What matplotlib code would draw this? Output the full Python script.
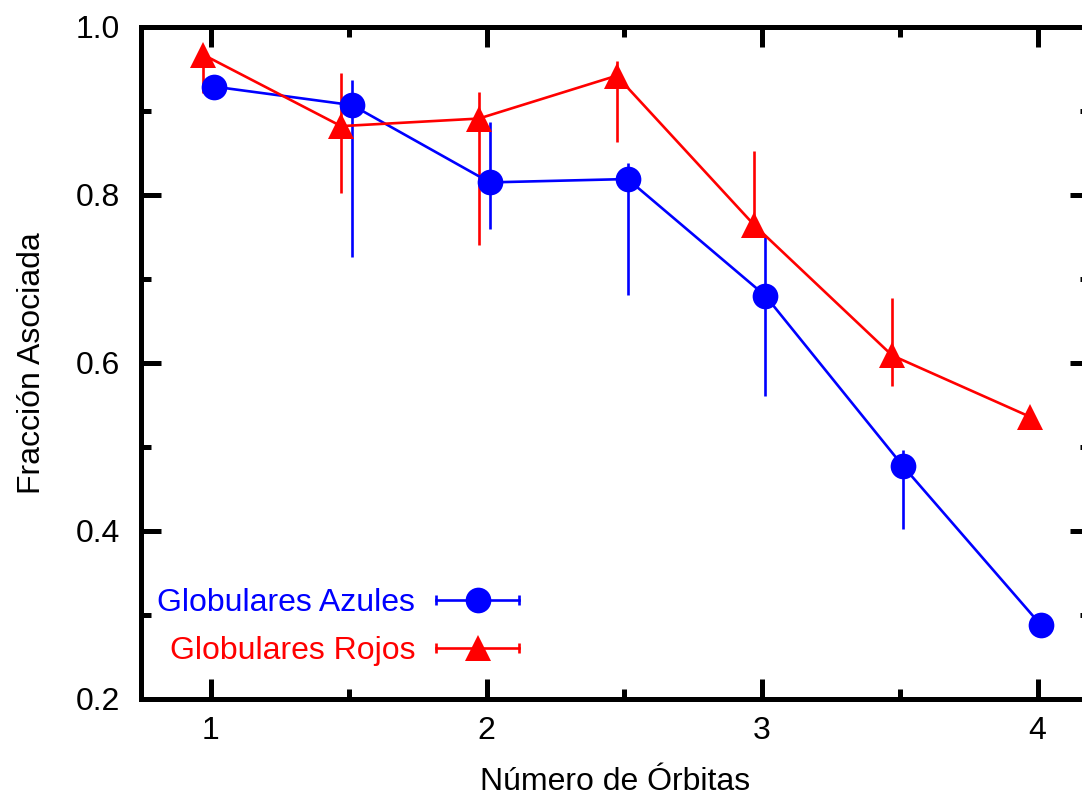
import numpy as np
import matplotlib
matplotlib.use("Agg")
import matplotlib.pyplot as plt
from matplotlib.lines import Line2D
from matplotlib.legend_handler import HandlerLine2D, HandlerTuple

plt.rcParams['font.family'] = ['Liberation Sans', 'DejaVu Sans']

# Globulares Azules
x_azules = [1.012, 1.512, 2.012, 2.512, 3.012, 3.512, 4.012]
y_azules = [0.929, 0.907, 0.815, 0.819, 0.680, 0.477, 0.288]
sup_azules = [0.929, 0.937, 0.887, 0.838, 0.750, 0.496, 0.288]
inf_azules = [0.929, 0.726, 0.760, 0.681, 0.561, 0.402, 0.288]

# Globulares Rojos
x_rojos = [0.972, 1.472, 1.972, 2.472, 2.972, 3.472, 3.972]
y_rojos = [0.967, 0.882, 0.891, 0.942, 0.764, 0.609, 0.536]
sup_rojos = [0.975, 0.945, 0.923, 0.960, 0.852, 0.677, 0.536]
inf_rojos = [0.921, 0.802, 0.740, 0.863, 0.760, 0.573, 0.536]

fs = 23
lw = 1.9

fig = plt.figure(figsize=(10.82, 7.96), dpi=100)
ax = fig.add_axes([141 / 1082, 97 / 796, 949 / 1082, 672 / 796])

def serie(x, y, sup, inf, color, marker, ms):
    y = np.array(y)
    yerr = [y - np.array(inf), np.array(sup) - y]
    ax.errorbar(x, y, yerr=yerr, color=color, lw=lw, elinewidth=lw,
                capsize=3.5, capthick=lw, marker=marker, ms=ms,
                markeredgewidth=0, zorder=3)

serie(x_azules, y_azules, sup_azules, inf_azules, "#0000ff", "o", 18.5)
serie(x_rojos, y_rojos, sup_rojos, inf_rojos, "#ff0000", "^", 19)

ax.set_xlim(0.746, 4.19)
ax.set_ylim(0.2, 1.0)
ax.set_xticks([1, 2, 3, 4])
ax.set_xticks([1.5, 2.5, 3.5], minor=True)
ax.set_yticks([0.2, 0.4, 0.6, 0.8, 1.0])
ax.set_yticks([0.3, 0.5, 0.7, 0.9], minor=True)
ax.set_yticklabels(["0.2", "0.4", "0.6", "0.8", "1.0"])

for s in ax.spines.values():
    s.set_linewidth(3.6)
ax.tick_params(which="both", direction="in", top=True, right=True,
               width=3.6, labelsize=fs)
ax.tick_params(which="major", length=14.4)
ax.tick_params(which="minor", length=7.2)
ax.tick_params(axis="x", which="major", pad=12)
ax.tick_params(axis="y", which="major", pad=15)

ax.set_xlabel("Número de Órbitas", fontsize=fs, labelpad=15)
ax.set_ylabel("Fracción Asociada", fontsize=fs, labelpad=21)

# clave estilo gnuplot: texto a la izquierda, barra horizontal con topes
handles = []
hmap = {}
for color, marker, ms in [("#0000ff", "o", 18.5), ("#ff0000", "^", 19)]:
    topes = Line2D([], [], color=color, lw=lw, marker="|", ms=7, mew=lw)
    punto = Line2D([], [], color=color, lw=0, marker=marker, ms=ms, mew=0)
    hmap[topes] = HandlerLine2D(numpoints=2, marker_pad=0)
    hmap[punto] = HandlerLine2D(numpoints=1)
    handles.append((topes, punto))
hmap[tuple] = HandlerTuple(ndivide=1)

leg = ax.legend(handles, ["Globulares Azules", "Globulares Rojos"],
                handler_map=hmap, loc="lower left",
                bbox_to_anchor=(0.017, 0.049), markerfirst=False,
                frameon=False, fontsize=fs, handlelength=2.6,
                handletextpad=0.66, labelspacing=0.56, borderpad=0,
                borderaxespad=0, labelcolor=["#0000ff", "#ff0000"])

fig.savefig("out.png", dpi=100)
